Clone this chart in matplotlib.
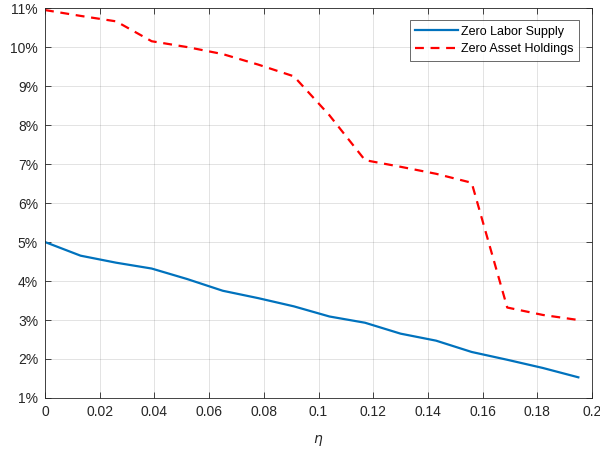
import matplotlib
matplotlib.use("Agg")
import matplotlib.pyplot as plt
from matplotlib.ticker import FuncFormatter

eta = [0.000, 0.013, 0.026, 0.039, 0.052, 0.065, 0.078, 0.091,
       0.104, 0.117, 0.130, 0.143, 0.156, 0.169, 0.182, 0.195]
zero_labor = [5.00, 4.65, 4.47, 4.32, 4.05, 3.75, 3.56, 3.35,
              3.09, 2.93, 2.65, 2.47, 2.18, 1.98, 1.77, 1.53]
zero_asset = [10.95, 10.80, 10.66, 10.15, 10.00, 9.82, 9.55, 9.25,
              8.25, 7.10, 6.93, 6.75, 6.52, 3.32, 3.13, 3.00]
labels = ["Zero Labor Supply", "Zero Asset Holdings"]

plt.rcParams['font.family'] = ['Liberation Sans', 'DejaVu Sans']

fig = plt.figure(figsize=(6, 4.5), dpi=100)
ax = fig.add_axes([0.075, 0.1156, 0.9117, 0.8664])

ax.plot(eta, zero_labor, color='#0072BD', lw=1.6, label=labels[0])
ax.plot(eta, zero_asset, color='#FF0000', lw=1.6, ls=(0, (4, 3)), label=labels[1])

ax.set_xlim(0, 0.2)
ax.set_ylim(1, 11)
ax.set_xticks([i * 0.02 for i in range(11)])
ax.set_yticks(range(1, 12))
ax.xaxis.set_major_formatter(FuncFormatter(lambda v, p: f"{v:g}"))
ax.yaxis.set_major_formatter(FuncFormatter(lambda v, p: f"{int(round(v))}%"))

ax.grid(True, color='#262626', alpha=0.15, lw=0.6)
ax.tick_params(direction='in', top=True, right=True, length=4, width=0.6,
               colors='#262626', labelsize=10, pad=5)
for s in ax.spines.values():
    s.set_color('#262626')
    s.set_linewidth(0.6)

ax.set_xlabel(r'$\eta$', fontsize=10, color='#262626', labelpad=10)

leg = ax.legend(loc='upper right', bbox_to_anchor=(0.976, 0.969), fontsize=9,
                frameon=True, fancybox=False, edgecolor='#262626',
                handlelength=3.4, borderpad=0.45, labelspacing=0.45,
                handletextpad=0.25, borderaxespad=0)
leg.get_frame().set_linewidth(0.6)

fig.savefig('out.png', dpi=100)
